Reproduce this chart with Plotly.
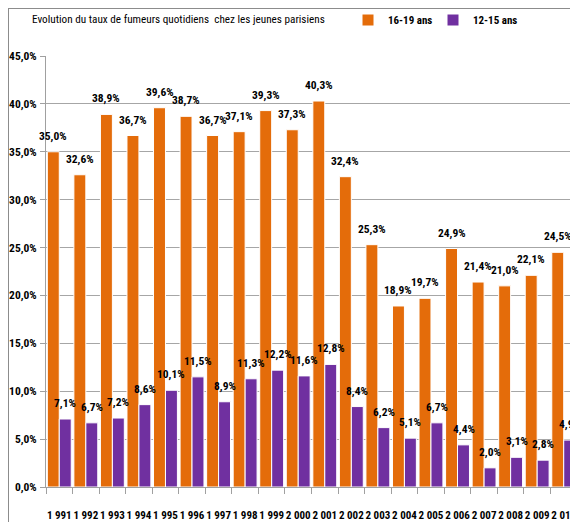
import plotly.graph_objects as go

years = [1991, 1992, 1993, 1994, 1995, 1996, 1997, 1998, 1999, 2000,
         2001, 2002, 2003, 2004, 2005, 2006, 2007, 2008, 2009, 2010]
ages_16_19 = [35.0, 32.6, 38.9, 36.7, 39.6, 38.7, 36.7, 37.1, 39.3, 37.3,
              40.3, 32.4, 25.3, 18.9, 19.7, 24.9, 21.4, 21.0, 22.1, 24.5]
ages_12_15 = [7.1, 6.7, 7.2, 8.6, 10.1, 11.5, 8.9, 11.3, 12.2, 11.6,
              12.8, 8.4, 6.2, 5.1, 6.7, 4.4, 2.0, 3.1, 2.8, 4.9]
series_names = ["16-19 ans", "12-15 ans"]
title_text = "Evolution du taux de fumeurs quotidiens  chez les jeunes parisiens"
y_ticks = [0, 5, 10, 15, 20, 25, 30, 35, 40, 45]

FONT = "Roboto Condensed, Open Sans Condensed, sans-serif"
ORANGE = "#E46C0A"
PURPLE = "#7030A0"

# the page shows the figure with an 8px body margin
OFF = 8


def fr(v):
    return f"{v:.1f}".replace(".", ",") + "%"


cats = [f"{y // 1000} {y % 1000:03d}" for y in years]

W, H = 578 - OFF, 522 - OFF
L, R, T, B = 46 - OFF, 1, 56 - OFF, 35
pw, ph = W - L - R, H - T - B
BARGAP = 0.1
half_bar = pw / len(cats) * (1 - BARGAP) / 4  # half of one bar's width, px


def px_x(p):  # page pixel -> paper
    return (p - OFF - L) / pw


def px_y(p):
    return (H - B - (p - OFF)) / ph


fig = go.Figure()
annotations = []
for name, vals, col, sgn in [(series_names[0], ages_16_19, ORANGE, -1),
                             (series_names[1], ages_12_15, PURPLE, 1)]:
    fig.add_trace(go.Bar(
        x=cats, y=vals, name=name,
        marker=dict(color=col, line=dict(color="white", width=1)),
    ))
    for c, v in zip(cats, vals):
        annotations.append(dict(
            x=c, y=v, xref="x", yref="y", text=fr(v), showarrow=False,
            xanchor="center", yanchor="bottom", xshift=sgn * half_bar, yshift=7,
            font=dict(family=FONT, size=11.5, color="black", weight="bold")))

annotations.append(dict(text=title_text, xref="paper", yref="paper",
                        x=px_x(30), y=px_y(20), xanchor="left", yanchor="middle",
                        showarrow=False,
                        font=dict(family=FONT, size=11.2, color="black")))

fig.update_layout(
    width=W, height=H,
    margin=dict(l=L, r=R, t=T, b=B, autoexpand=False),
    paper_bgcolor="white", plot_bgcolor="white",
    barmode="group", bargap=BARGAP, bargroupgap=0,
    font=dict(family=FONT, color="black"),
    separators=", ",
    showlegend=True,
    legend=dict(orientation="h", x=px_x(348), y=px_y(20), xanchor="left", yanchor="middle",
                font=dict(family=FONT, size=11, color="black", weight="bold"),
                itemwidth=30, entrywidth=40, entrywidthmode="pixels",
                bgcolor="rgba(0,0,0,0)", traceorder="normal"),
    annotations=annotations,
    shapes=[
        dict(type="line", xref="paper", yref="paper", x0=px_x(OFF), x1=px_x(578),
             y0=px_y(OFF + 0.5), y1=px_y(OFF + 0.5), line=dict(color="#8c8c8c", width=1)),
        dict(type="line", xref="paper", yref="paper", x0=px_x(OFF + 0.5), x1=px_x(OFF + 0.5),
             y0=px_y(OFF), y1=px_y(522), line=dict(color="#8c8c8c", width=1)),
    ],
)

fig.update_xaxes(
    range=[-0.5, len(cats) - 0.5],
    showline=True, linecolor="#a0a0a0", linewidth=1,
    ticks="outside", tickson="boundaries", ticklen=6, tickcolor="#a0a0a0",
    ticklabelstandoff=18, tickangle=0, automargin=False,
    tickfont=dict(family=FONT, size=11, color="black", weight="bold"),
    showgrid=False,
)
fig.update_yaxes(
    range=[0, 45], tickvals=y_ticks, ticktext=[fr(v) for v in y_ticks],
    showline=True, linecolor="#a0a0a0", linewidth=1,
    ticks="outside", ticklen=5, tickcolor="#a0a0a0",
    showgrid=True, gridcolor="#a6a6a6", gridwidth=1,
    zeroline=False, ticklabelstandoff=1, automargin=False,
    tickfont=dict(family=FONT, size=11.5, color="black", weight="bold"),
)

fig.write_html("out.html")
